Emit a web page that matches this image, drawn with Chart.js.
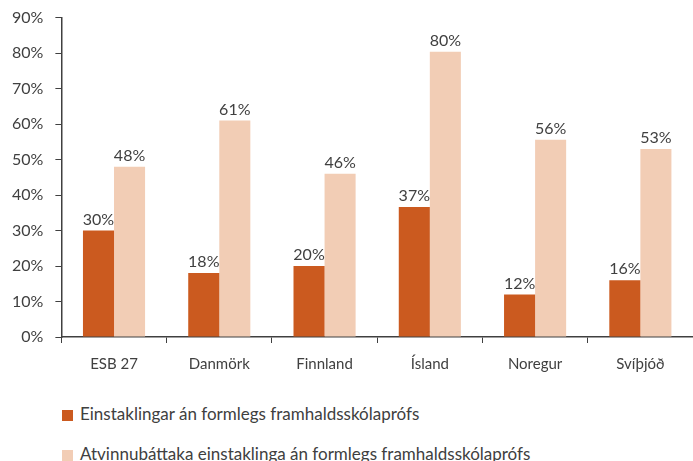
<!DOCTYPE html>
<html>
<head>
<meta charset="utf-8">
<script src="https://cdn.jsdelivr.net/npm/chart.js@4"></script>
<style>
  html, body { margin: 0; padding: 0; background: #fff; overflow: hidden; }
  #wrap { width: 693px; height: 389px; margin-top: -4px; position: relative; }
  #legend { position: absolute; left: 62px; top: 400px; margin: 0; padding: 0; list-style: none;
            font-family: Lato, "Open Sans", sans-serif; font-size: 17px; color: #404040; }
  #legend li { height: 40px; line-height: 28px; white-space: nowrap; }
  #legend i { display: inline-block; width: 11px; height: 11px; margin-right: 7px; vertical-align: -1px; }
</style>
</head>
<body>
<div id="wrap"><canvas id="chart"></canvas></div>
<ul id="legend"></ul>
<script>
const categories = ['ESB 27', 'Danmörk', 'Finnland', 'Ísland', 'Noregur', 'Svíþjóð'];
const seriesNames = [
  'Einstaklingar án formlegs framhaldsskólaprófs',
  'Atvinnubáttaka einstaklinga án formlegs framhaldsskólaprófs'
];
const withoutDiploma = [30, 18, 20, 36.6, 12, 16];
const employmentRate = [48, 61, 46, 80.4, 55.6, 53];
const yTicks = [0, 10, 20, 30, 40, 50, 60, 70, 80, 90];
const colors = ['#CB5A1F', '#F2CDB5'];

const TEXT = '#404040';
const FONT = 'Lato, "Open Sans", sans-serif';

// labels above each bar
const valueLabels = {
  id: 'valueLabels',
  afterDatasetsDraw(chart) {
    const ctx = chart.ctx;
    ctx.save();
    ctx.fillStyle = TEXT;
    ctx.font = '16px ' + FONT;
    ctx.textAlign = 'center';
    ctx.textBaseline = 'bottom';
    chart.data.datasets.forEach((ds, di) => {
      chart.getDatasetMeta(di).data.forEach((bar, i) => {
        ctx.fillText(Math.round(ds.data[i]) + '%', bar.x, bar.y - 3);
      });
    });
    ctx.restore();
  }
};

const chart = new Chart(document.getElementById('chart'), {
  type: 'bar',
  data: {
    labels: categories,
    datasets: [
      { label: seriesNames[0], data: withoutDiploma, backgroundColor: colors[0] },
      { label: seriesNames[1], data: employmentRate, backgroundColor: colors[1] }
    ]
  },
  options: {
    responsive: true,
    maintainAspectRatio: false,
    animation: false,
    layout: { padding: 0 },
    datasets: { bar: { categoryPercentage: 0.59, barPercentage: 1 } },
    scales: {
      x: {
        grid: { drawOnChartArea: false, drawTicks: true, tickLength: 6, color: TEXT, offset: true },
        border: { color: TEXT, width: 1.5 },
        ticks: { color: TEXT, font: { family: FONT, size: 15 }, padding: 12 }
      },
      y: {
        min: 0, max: 90,
        afterBuildTicks(axis) { axis.ticks = yTicks.map(v => ({ value: v })); },
        grid: { drawOnChartArea: false, drawTicks: true, tickLength: 6, color: TEXT },
        border: { color: TEXT, width: 1.5 },
        ticks: { color: TEXT, font: { family: FONT, size: 16 }, padding: 12, callback: v => v + '%' }
      }
    },
    plugins: {
      legend: { display: false },
      tooltip: { enabled: false }
    }
  },
  plugins: [valueLabels]
});

// legend as html under the chart
const legend = document.getElementById('legend');
chart.data.datasets.forEach(ds => {
  const li = document.createElement('li');
  const box = document.createElement('i');
  box.style.background = ds.backgroundColor;
  li.append(box, document.createTextNode(ds.label));
  legend.append(li);
});
</script>
</body>
</html>
